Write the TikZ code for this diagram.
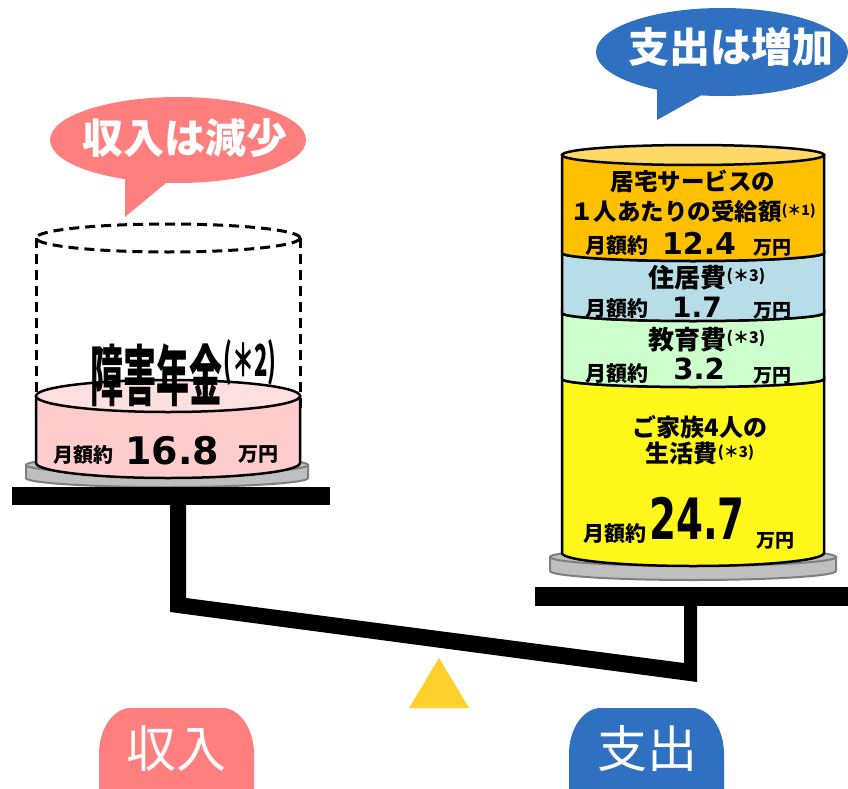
\documentclass[tikz,border=0pt]{standalone}
\usepackage{fontspec}
\newfontfamily\jp{Noto Sans CJK JP}
\newfontfamily\dv{DejaVu Sans}
\newcommand\fsz[1]{\fontsize{#1}{#1}\selectfont}
\definecolor{pinkbub}{HTML}{FF7F7F}
\definecolor{bluebub}{HTML}{2F70C0}
\definecolor{pinkbody}{HTML}{FFCCCC}
\definecolor{pinktop}{HTML}{FFE0E0}
\definecolor{orangeb}{HTML}{FFC000}
\definecolor{orangetop}{HTML}{FFD966}
\definecolor{lblue}{HTML}{B7DEE8}
\definecolor{lgreen}{HTML}{CCFFCC}
\definecolor{yel}{HTML}{FFF719}
\definecolor{plategray}{HTML}{BFBFBF}
\definecolor{plateedge}{HTML}{7F7F7F}
\definecolor{gold}{HTML}{FFCF2C}
\tikzset{
  bub/.style={inner sep=0pt, text=white, font=\jp\bfseries\fsz{41}},
  lab/.style={inner sep=0pt, font=\jp\bfseries},
  num/.style={inner sep=0pt, font=\dv\bfseries},
  cyl/.style={draw=black, line width=2.5pt},
  dash3/.style={line width=3pt, dash pattern=on 10pt off 6pt},
  platestyle/.style={fill=plategray, draw=plateedge, line width=2pt},
  big/.style={inner sep=0pt, text=white, font=\jp\fsz{50}}
}
\begin{document}
\begin{tikzpicture}[x=1pt,y=-1pt]
\clip (0,0) rectangle (848,789);
\fill[white] (0,0) rectangle (848,789);
% ---------- bubbles ----------
\fill[pinkbub] (178,140) ellipse [x radius=128, y radius=43];
\fill[pinkbub] (125,170) -- (125,217) -- (172,178) -- cycle;
\node[bub] (lb) at (185,138) {収入は減少};
\fill[bluebub] (722,52) ellipse [x radius=126, y radius=44];
\fill[bluebub] (657,85) -- (657,120) -- (707,92) -- cycle;
\node[bub] (rb) at (731,47) {支出は増加};
% ---------- left side ----------
\draw[dash3] (168,238) ellipse [x radius=132, y radius=14];
\draw[dash3] (36,238) -- (36,410);
\draw[dash3] (300,238) -- (300,410);
% plate
\path[platestyle] (26,465) -- (26,478) arc[start angle=180, end angle=0, x radius=141, y radius=9] -- (308,465) -- cycle;
\path[platestyle] (167,465) ellipse [x radius=141, y radius=9];
% pink cylinder
\path[cyl, fill=pinkbody] (36,396) -- (36,463) arc[start angle=180, end angle=0, x radius=132, y radius=15] -- (300,396) -- cycle;
\path[cyl, fill=pinktop] (168,396) ellipse [x radius=132, y radius=16];
\node[lab] (ann) at (156,375) {\scalebox{0.5}[1]{\fsz{66}障害年金}};
\node[lab, font=\jp\bfseries\fsz{44}] (ann2) at (250,363) {\scalebox{0.5}[1]{(＊2)}};
\node[lab, font=\jp\bfseries\fsz{20}] (lm) at (83,455) {月額約};
\node[num, font=\dv\bfseries\fsz{38}] (ln) at (172,451) {16.8};
\node[lab, font=\jp\bfseries\fsz{20}] (lu) at (258,455) {万円};
% ---------- right side ----------
\path[platestyle] (550,557) -- (550,571) arc[start angle=180, end angle=0, x radius=143, y radius=9] -- (836,557) -- cycle;
\path[platestyle] (693,557) ellipse [x radius=143, y radius=9];
% yellow band
\path[cyl, fill=yel] (562,379) -- (562,553) arc[start angle=180, end angle=0, x radius=131, y radius=13] -- (824,379) arc[start angle=0, end angle=180, x radius=131, y radius=8] -- cycle;
% green band
\path[cyl, fill=lgreen] (562,313) -- (562,379) arc[start angle=180, end angle=0, x radius=131, y radius=8] -- (824,313) arc[start angle=0, end angle=180, x radius=131, y radius=8] -- cycle;
% blue band
\path[cyl, fill=lblue] (562,253) -- (562,313) arc[start angle=180, end angle=0, x radius=131, y radius=8] -- (824,253) arc[start angle=0, end angle=180, x radius=131, y radius=8] -- cycle;
% orange band
\path[cyl, fill=orangeb] (562,155) -- (562,253) arc[start angle=180, end angle=0, x radius=131, y radius=8] -- (824,155) -- cycle;
\path[cyl, fill=orangetop] (693,155) ellipse [x radius=131, y radius=10];
% texts
\node[lab, font=\jp\bfseries\fsz{23.5}] (r1) at (693,181) {居宅サービスの};
\node[lab, font=\jp\bfseries\fsz{23.5}] (r2) at (693,211) {１人あたりの受給額\raisebox{5pt}{\fsz{14}(＊1)}};
\node[lab, font=\jp\bfseries\fsz{21}] (r3) at (617,246) {月額約};
\node[num, font=\dv\bfseries\fsz{30}] (r4) at (699,243) {12.4};
\node[lab, font=\jp\bfseries\fsz{19}] (r5) at (772,248) {万円};
\node[lab, font=\jp\bfseries\fsz{26}] (r6) at (707,278) {住居費\raisebox{6pt}{\fsz{16}(＊3)}};
\node[lab, font=\jp\bfseries\fsz{21}] (r7) at (617,309) {月額約};
\node[num, font=\dv\bfseries\fsz{28}] (r8) at (697,307) {1.7};
\node[lab, font=\jp\bfseries\fsz{19}] (r9) at (772,311) {万円};
\node[lab, font=\jp\bfseries\fsz{26}] (r10) at (707,340) {教育費\raisebox{6pt}{\fsz{16}(＊3)}};
\node[lab, font=\jp\bfseries\fsz{21}] (r11) at (617,374) {月額約};
\node[num, font=\dv\bfseries\fsz{29}] (r12) at (699,369) {3.2};
\node[lab, font=\jp\bfseries\fsz{19}] (r13) at (772,376) {万円};
\node[lab, font=\jp\bfseries\fsz{24}] (r14) at (700,427) {ご家族4人の};
\node[lab, font=\jp\bfseries\fsz{24}] (r15) at (700,453) {生活費\raisebox{5pt}{\fsz{15}(＊3)}};
\node[lab, font=\jp\bfseries\fsz{21}] (r16) at (615,534) {月額約};
\node[num, font=\dv\bfseries\fsz{57}] (r17) at (697,518) {\scalebox{0.68}[1]{24.7}};
\node[lab, font=\jp\bfseries\fsz{19}] (r18) at (775,541) {万円};
% ---------- balance ----------
\fill[black] (12,487) rectangle (330,505);
\fill[black] (535,587) rectangle (848,606);
\fill[black] (170,505) -- (170,612) -- (697,682) -- (697,606) -- (684,606) -- (684,663) -- (186,598) -- (186,505) -- cycle;
\fill[gold] (439,658) -- (469,708) -- (409,708) -- cycle;
% ---------- bottom labels ----------
\fill[pinkbub] (131,708) -- (222,708) arc[start angle=-90, end angle=0, x radius=32, y radius=46] -- (254,800) -- (99,800) -- (99,754) arc[start angle=180, end angle=270, x radius=32, y radius=46] -- cycle;
\node[big] (inc) at (176,749) {収入};
\fill[bluebub] (601,708) -- (692,708) arc[start angle=-90, end angle=0, x radius=32, y radius=46] -- (724,800) -- (569,800) -- (569,754) arc[start angle=180, end angle=270, x radius=32, y radius=46] -- cycle;
\node[big] (exp) at (647,749) {支出};
\end{tikzpicture}
\end{document}
